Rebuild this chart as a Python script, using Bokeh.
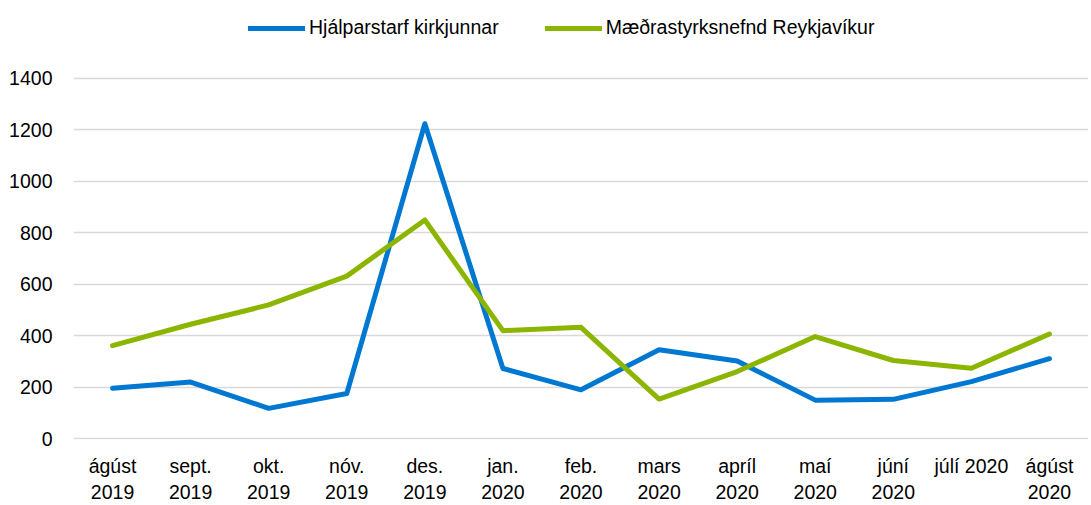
from bokeh.plotting import figure
from bokeh.models import Legend, LegendItem, FixedTicker, Range1d
from bokeh.embed import file_html
from bokeh.resources import INLINE

months = ["ágúst\n2019", "sept.\n2019", "okt.\n2019", "nóv.\n2019", "des.\n2019",
          "jan.\n2020", "feb.\n2020", "mars\n2020", "apríl\n2020", "maí\n2020",
          "júní\n2020", "júlí 2020", "ágúst\n2020"]
hjalparstarf = [196, 220, 118, 176, 1224, 273, 190, 346, 302, 150, 153, 222, 311]
maedrastyrks = [362, 445, 520, 632, 850, 420, 433, 154, 261, 397, 304, 274, 407]
series_names = ["Hjálparstarf kirkjunnar", "Mæðrastyrksnefnd Reykjavíkur"]
y_ticks = [0, 200, 400, 600, 800, 1000, 1200, 1400]

FONT = "Liberation Sans"
BLUE = "#0078D2"
GREEN = "#8CB500"

x = list(range(len(months)))

# frame extends to the canvas top so that the legend sits inside it (above 1400)
p = figure(width=1091, height=505, output_backend="svg", toolbar_location=None,
           x_range=Range1d(-0.5, 12.5), y_range=Range1d(-3, 1703),
           min_border_left=73, min_border_right=3, min_border_top=0,
           min_border_bottom=66)
p.outline_line_color = None
p.background_fill_color = "white"
p.border_fill_color = "white"

r1 = p.line(x, hjalparstarf, line_color=BLUE, line_width=5, line_join="round", line_cap="round")
r2 = p.line(x, maedrastyrks, line_color=GREEN, line_width=5, line_join="round", line_cap="round")

p.xgrid.grid_line_color = None
p.ygrid.grid_line_color = "#D9D9D9"
p.ygrid.grid_line_width = 1.5
p.yaxis.ticker = FixedTicker(ticks=y_ticks)
p.xaxis.ticker = FixedTicker(ticks=x)
p.xaxis.major_label_overrides = {i: m for i, m in enumerate(months)}

for ax in (p.xaxis[0], p.yaxis[0]):
    ax.axis_line_color = None
    ax.major_tick_line_color = None
    ax.minor_tick_line_color = None
    ax.major_tick_out = 0
    ax.major_tick_in = 0
    ax.minor_tick_out = 0
    ax.major_label_text_font = FONT
    ax.major_label_text_font_size = "19.5px"
    ax.major_label_text_color = "#000000"
p.yaxis.major_label_standoff = 21
p.xaxis.major_label_standoff = 15

legend = Legend(items=[LegendItem(label=series_names[0], renderers=[r1]),
                       LegendItem(label=series_names[1], renderers=[r2])],
                orientation="horizontal", location=(175, 400),
                label_text_font=FONT, label_text_font_size="19.5px",
                label_text_color="#000000",
                glyph_width=57, glyph_height=20, label_height=20,
                label_standoff=4, spacing=46,
                padding=0, margin=0, border_line_color=None,
                background_fill_alpha=0)
p.add_layout(legend, "center")

open("out.html", "w").write(file_html(p, INLINE))
